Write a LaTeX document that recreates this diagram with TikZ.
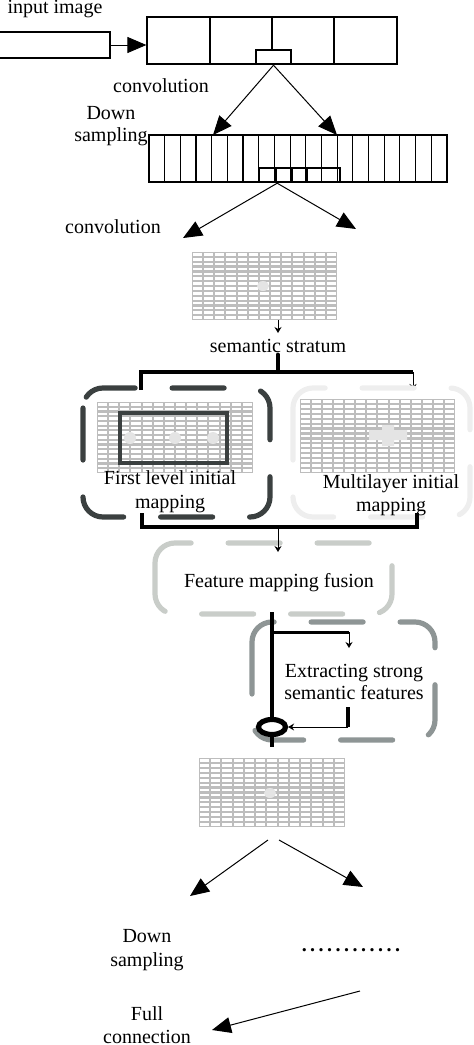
\documentclass[tikz,border=0pt]{standalone}
\usepackage{fontspec}
\setmainfont{Liberation Serif}
\usetikzlibrary{arrows.meta,shapes.geometric}

\definecolor{mapgray}{HTML}{BDBDBD}
\definecolor{spotgray}{HTML}{E4E4E4}
\definecolor{darkgroup}{HTML}{3B4040}
\definecolor{lightgroup}{HTML}{EEEEEE}
\definecolor{fusegroup}{HTML}{C9CDC9}
\definecolor{extgroup}{HTML}{8E9595}

%grille de carte
\newcommand{\featmap}[6]{%
  \fill[mapgray] (#1,#2) rectangle ++({#3*#5},{#4*#6});
  \foreach \i in {1,...,#3}{
    \foreach \j in {1,...,#4}{
      \fill[white] ({#1+(\i-1)*#5+1.0},{#2+(\j-1)*#6+1.1}) rectangle ++({#5-2.0},{#6-2.2});
    }
  }%
}

\tikzset{
  layer/.style={draw, line width=0.6pt, inner sep=0pt},
  kernel/.style={draw, line width=1.2pt, inner sep=0pt},
  bigarrow/.style={-{Triangle[length=9.5pt,width=8pt]}, line width=0.5pt},
  tinyarrow/.style={-{Stealth[length=3pt,width=3.5pt]}, line width=0.5pt},
  bracket/.style={line width=2pt},
  groupbox/.style={line width=2.6pt, rounded corners=10pt, line cap=round, dash pattern=on 26pt off 18.5pt},
  lbl/.style={inner sep=0pt, align=center, font=\fontsize{10}{12}\selectfont},
}

\begin{document}
\begin{tikzpicture}[x=0.5pt,y=-0.5pt]
  \useasboundingbox (0,0) rectangle (474,1045);

  %entree
  \node[lbl, anchor=base] (inlbl) at (55,13) {input image};
  \node[layer, minimum width=60pt, minimum height=13pt] (inimg) at (50,45) {};
  \node[layer, minimum width=125pt, minimum height=23.5pt] (convbox) at (272,40.5) {};
  \draw[line width=0.6pt] (210,17) -- (210,64) (334,17) -- (334,64) (272,17) -- (272,50);
  \node[kernel, minimum width=17.5pt, minimum height=7pt] (kera) at (273.5,57) {};
  \draw[bigarrow] (inimg.east) -- (inimg.east -| convbox.west);

  %convolution
  \node[lbl, anchor=base] (conva) at (161,92) {convolution};
  \coordinate (dsl) at (213,135);
  \coordinate (dsr) at (337,135);
  \draw[bigarrow] (kera.south) -- (dsl);
  \draw[bigarrow] (kera.south) -- (dsr);

  %sous-echantillonnage
  \node[lbl, font=\fontsize{10}{11}\selectfont] (downa) at (111,126.5) {Down\\sampling};
  \node[layer, minimum width=149pt, minimum height=23.5pt] (dsbox) at (298,158.5) {};
  \foreach \k in {1,...,18}
    \draw[line width=0.6pt] ({149+\k*15.68},135) -- ({149+\k*15.68},182);
  \node[kernel, minimum width=8.5pt, minimum height=7pt] (kb1) at (267.5,175) {};
  \node[kernel, minimum width=8pt, minimum height=7pt] (kb2) at (284,175) {};
  \node[kernel, minimum width=7.5pt, minimum height=7pt] (kb3) at (299.5,175) {};
  \node[kernel, minimum width=16.5pt, minimum height=7pt] (kb4) at (323.5,175) {};

  %convolution 2
  \node[lbl, anchor=base] (convb) at (113,233) {convolution};
  \coordinate (cvl) at (183,238);
  \coordinate (cvr) at (356,229);
  \draw[bigarrow] (kb1.south east) -- (cvl);
  \draw[bigarrow] (kb1.south east) -- (cvr);

  %strate
  \featmap{192}{252}{13}{14}{11.15}{4.86}
  \fill[spotgray] (263,286) ellipse [x radius=6, y radius=5];
  \coordinate (mapout) at (278,320);
  \draw[tinyarrow] (mapout) -- ++(0,13);
  \node[lbl, anchor=base] (stratum) at (278,352) {semantic stratum};
  \coordinate (split) at (278,372);
  \coordinate (brl) at (141,372);
  \coordinate (brr) at (413,372);
  \draw[bracket, line cap=round] ([yshift=-1pt]stratum.south) -- (split);
  \draw[bracket] ([yshift=-9pt]brl) -- (brl) -- (brr);
  \draw[tinyarrow] (brr) -- ++(0,18);

  %premier niveau
  \draw[groupbox, darkgroup] (83,388) rectangle (270,517);
  \featmap{97}{402}{14}{15}{11.14}{4.73}
  \fill[spotgray] (130,438) ellipse [x radius=6, y radius=6];
  \fill[spotgray] (175,438) ellipse [x radius=6, y radius=6];
  \fill[spotgray] (213,438) ellipse [x radius=6, y radius=6];
  \draw[darkgroup, line width=1.8pt] (120,413) rectangle (227,463);
  \node[lbl] (firstlbl) at (170,491.4) {First level initial\\mapping};

  %multicouche
  \draw[groupbox, lightgroup] (293,388) rectangle (470,517);
  \featmap{300}{399}{14}{15}{11.07}{4.93}
  \fill[spotgray] (369,430) rectangle (407,440) (382,425) rectangle (394,446);
  \node[lbl, font=\fontsize{10}{11.5}\selectfont] (multilbl) at (391,495) {Multilayer initial\\mapping};

  %fusion
  \coordinate (join) at (278,527);
  \draw[bracket] (142,513) -- (142,527) -- (417,527) -- (417,513);
  \draw[groupbox, fusegroup] (155,543) rectangle (392,614);
  \draw[tinyarrow] (join) -- ++(0,25);
  \node[lbl, anchor=base] (fuselbl) at (279,587) {Feature mapping fusion};

  %extraction
  \draw[groupbox, extgroup] (252,622) rectangle (435,740);
  \node[lbl, font=\fontsize{10}{11}\selectfont] (extlbl) at (354,682) {Extracting strong\\semantic features};
  \draw[line width=2pt] (272,612) -- (272,747);
  \node[ellipse, draw, fill=white, line width=2.6pt, minimum width=13.5pt, minimum height=7.5pt, inner sep=0pt] (merge) at (272,727) {};
  \coordinate (branch) at (349,632);
  \draw[line width=1.5pt] (272,632) -- (branch);
  \draw[tinyarrow] (branch) -- ++(0,16);
  \coordinate (fbk) at (348,727);
  \draw[line width=2pt] (348,707) -- (fbk);
  \draw[tinyarrow] (fbk) -- (merge);

  %sortie
  \featmap{199}{758}{13}{14}{11.23}{4.93}
  \fill[spotgray] (270,793) ellipse [x radius=6, y radius=5];
  \coordinate (outl) at (268,840);
  \coordinate (outr) at (279,840);
  \coordinate (dnl) at (190,896);
  \coordinate (dnr) at (363,887);
  \draw[bigarrow] (outl) -- (dnl);
  \draw[bigarrow] (outr) -- (dnr);
  \node[lbl] (downb) at (147,950.4) {Down\\sampling};
  \node[lbl, anchor=base] (dots) at (351,951) {\hbox to 51pt{\xleaders\hbox to 4.25pt{\hss\textbf{.}\hss}\hfill}};
  \coordinate (fcs) at (360,991);
  \coordinate (fce) at (212,1030);
  \draw[bigarrow] (fcs) -- (fce);
  \node[lbl, font=\fontsize{10}{11.5}\selectfont] (fulllbl) at (147,1024.7) {Full\\connection};
\end{tikzpicture}
\end{document}
